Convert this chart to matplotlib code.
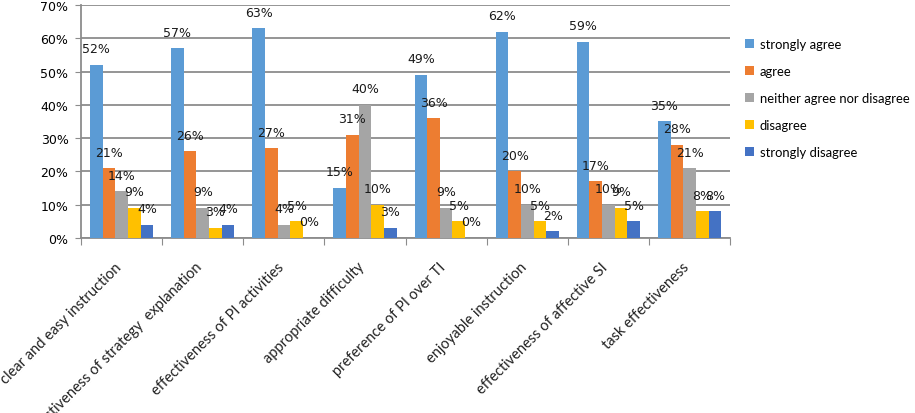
import numpy as np
import matplotlib
matplotlib.use("Agg")
import matplotlib.pyplot as plt

# Survey items (x categories)
categories = [
    "clear and easy instruction",
    "effectiveness of strategy  explanation",
    "effectiveness of PI activities",
    "appropriate difficulty",
    "preference of PI over TI",
    "enjoyable instruction",
    "effectiveness of affective SI",
    "task effectiveness",
]

# Percent of responses per answer
strongly_agree = [52, 57, 63, 15, 49, 62, 59, 35]
agree = [21, 26, 27, 31, 36, 20, 17, 28]
neither = [14, 9, 4, 40, 9, 10, 10, 21]
disagree = [9, 3, 5, 10, 5, 5, 9, 8]
strongly_disagree = [4, 4, 0, 3, 0, 2, 5, 8]

series_names = ["strongly agree", "agree", "neither agree nor disagree",
                "disagree", "strongly disagree"]
series = [strongly_agree, agree, neither, disagree, strongly_disagree]
colors = ["#5B9BD5", "#ED7D31", "#A5A5A5", "#FFC000", "#4472C4"]

fig = plt.figure(figsize=(9.15, 4.14), dpi=100)
ax = fig.add_axes([0.0885, 0.423, 0.7095, 0.5625])

x = np.arange(len(categories))
bar_w = 0.156
n = len(series)

for i, (name, vals, col) in enumerate(zip(series_names, series, colors)):
    pos = x + (i - (n - 1) / 2) * bar_w
    ax.bar(pos, vals, width=bar_w, color=col, label=name, zorder=3)
    for px, v in zip(pos, vals):
        ax.annotate(f"{v}%", (px, v), xytext=(0, 9), textcoords="offset points",
                    ha="center", va="baseline", fontsize=9, color="#1a1a1a",
                    zorder=4)

# Axes styling (Excel-like)
ax.set_xlim(-0.5, len(categories) - 0.5)
ax.set_ylim(0, 70)
ax.set_yticks(np.arange(0, 71, 10))
ax.set_yticklabels([f"{t}%" for t in range(0, 71, 10)], fontsize=9)
ax.yaxis.grid(True, color="#8c8c8c", linewidth=1.3, zorder=0)
ax.set_axisbelow(True)

for s in ["top", "right"]:
    ax.spines[s].set_visible(False)
for s in ["left", "bottom"]:
    ax.spines[s].set_color("#8c8c8c")
    ax.spines[s].set_linewidth(1.3)

# ticks at category boundaries on x axis
ax.set_xticks(np.arange(-0.5, len(categories)), minor=False)
ax.set_xticklabels([])
ax.tick_params(axis="x", length=5, color="#8c8c8c", direction="out")
ax.tick_params(axis="y", length=4, color="#8c8c8c", pad=5)

for xi, lab in zip(x, categories):
    ax.text(xi + 0.03, -6.5, lab, rotation=45, ha="right", va="top",
            fontsize=10.5, family="Lato", color="#222222")

ax.legend(loc="upper left", bbox_to_anchor=(1.005, 0.91), frameon=False,
          handlelength=0.7, handleheight=0.7, handletextpad=0.4,
          labelspacing=1.15, prop={"family": "Lato", "size": 9.4})

fig.savefig("out.png", dpi=100)
